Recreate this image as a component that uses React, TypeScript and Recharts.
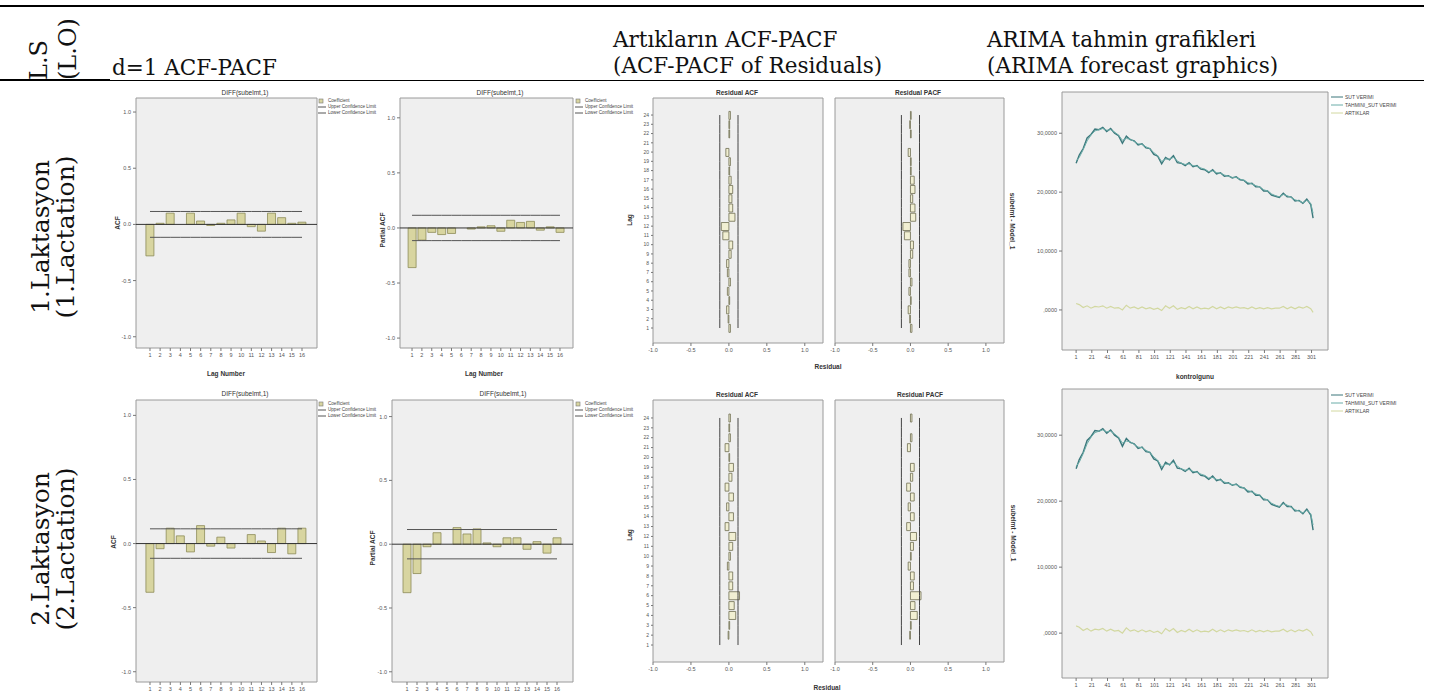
import React from 'react';
import {
  ComposedChart,
  Bar,
  Line,
  XAxis,
  YAxis,
  ReferenceLine,
  ReferenceArea,
  CartesianGrid,
  Legend,
} from 'recharts';

// ---------- data ----------
const acfLags = [1, 2, 3, 4, 5, 6, 7, 8, 9, 10, 11, 12, 13, 14, 15, 16];
const residualLags = [1, 2, 3, 4, 5, 6, 7, 8, 9, 10, 11, 12, 13, 14, 15, 16, 17, 18, 19, 20, 21, 22, 23, 24];
const acfYTicks = [-1, -0.5, 0, 0.5, 1];
const residualXTicks = [-1, -0.5, 0, 0.5, 1];

const acfRow1 = [-0.28, 0.01, 0.1, 0.0, 0.1, 0.03, -0.01, 0.01, 0.04, 0.1, -0.02, -0.06, 0.1, 0.06, 0.01, 0.02];
const pacfRow1 = [-0.36, -0.11, -0.04, -0.06, -0.05, 0.0, -0.01, 0.01, 0.02, -0.03, 0.07, 0.05, 0.06, -0.02, 0.01, -0.04];
const acfRow2 = [-0.38, -0.04, 0.12, 0.06, -0.065, 0.14, -0.02, 0.05, -0.035, 0.0, 0.07, 0.02, -0.07, 0.12, -0.08, 0.12];
const pacfRow2 = [-0.38, -0.23, -0.02, 0.09, 0.0, 0.13, 0.08, 0.12, 0.01, -0.02, 0.05, 0.05, -0.04, 0.02, -0.07, 0.05];
const confRow1 = [0.115, -0.115]; // upper, lower
const confRow2 = [0.115, -0.115];

const resAcfRow1 = [0.02, -0.01, -0.03, 0.01, -0.02, 0.02, -0.02, -0.03, 0.03, 0.05, -0.08, -0.1, 0.08, 0.05, 0.04, 0.05, 0.03, 0.01, 0.02, -0.04, 0.0, 0.01, 0.01, 0.02];
const resPacfRow1 = [0.02, -0.01, -0.03, 0.01, -0.02, 0.02, -0.02, -0.02, 0.03, 0.04, -0.08, -0.1, 0.07, 0.06, 0.03, 0.06, 0.05, 0.01, 0.01, -0.03, 0.0, 0.01, -0.01, 0.01];
const resAcfRow2 = [0.0, -0.01, 0.01, 0.09, 0.07, 0.14, 0.05, 0.05, -0.02, 0.02, 0.05, 0.09, -0.05, 0.06, -0.03, 0.06, -0.05, 0.04, 0.06, 0.01, -0.05, 0.02, 0.01, 0.02];
const resPacfRow2 = [0.0, -0.01, 0.01, 0.09, 0.06, 0.14, 0.04, 0.05, -0.03, 0.01, 0.04, 0.08, -0.05, 0.05, -0.03, 0.05, -0.05, 0.03, 0.05, 0.0, -0.04, 0.02, 0.0, 0.02];
const resConf = [0.12, -0.12];

const forecastDays = [1, 5, 10, 15, 20, 25, 30, 35, 40, 45, 50, 55, 60, 65, 70, 75, 80, 85, 90, 95, 100, 105, 110, 115, 120, 125, 130, 135, 140, 145, 150, 155, 160, 165, 170, 175, 180, 185, 190, 195, 200, 205, 210, 215, 220, 225, 230, 235, 240, 245, 250, 255, 260, 265, 270, 275, 280, 285, 290, 295, 300, 303];
const sutVerimi = [24.9, 26.3, 27.4, 29.2, 29.8, 30.7, 30.6, 31.0, 30.3, 30.8, 30.0, 29.6, 28.3, 29.5, 28.9, 28.7, 28.0, 28.2, 27.5, 27.4, 26.4, 26.1, 24.8, 25.9, 25.5, 26.2, 25.0, 24.9, 24.5, 25.0, 24.3, 24.5, 23.9, 23.8, 23.3, 23.8, 23.1, 23.3, 22.7, 22.8, 22.4, 22.6, 22.1, 22.0, 21.4, 21.5, 20.9, 20.9, 20.2, 20.2, 19.5, 19.3, 19.1, 19.8, 19.2, 19.2, 18.5, 18.6, 18.1, 18.8, 17.9, 15.6];
const tahminiSutVerimi = [25.3, 25.9, 27.2, 28.7, 29.7, 30.4, 30.6, 30.8, 30.5, 30.6, 30.2, 29.7, 28.8, 29.1, 29.0, 28.6, 28.2, 28.1, 27.7, 27.4, 26.7, 26.2, 25.2, 25.6, 25.6, 25.9, 25.3, 24.9, 24.7, 24.8, 24.5, 24.4, 24.1, 23.9, 23.5, 23.6, 23.3, 23.2, 22.9, 22.7, 22.5, 22.5, 22.2, 22.0, 21.6, 21.4, 21.1, 20.9, 20.4, 20.2, 19.7, 19.4, 19.2, 19.6, 19.4, 19.1, 18.7, 18.5, 18.2, 18.6, 18.1, 16.4];
const artiklar = [1.1, 0.9, 0.4, 0.7, 0.3, 0.6, 0.5, 0.7, 0.3, 0.6, 0.3, 0.4, 0.0, 0.8, 0.3, 0.5, 0.2, 0.5, 0.2, 0.4, 0.1, 0.3, -0.1, 0.7, 0.3, 0.7, 0.1, 0.4, 0.2, 0.6, 0.2, 0.5, 0.2, 0.3, 0.2, 0.6, 0.2, 0.5, 0.2, 0.5, 0.3, 0.5, 0.3, 0.4, 0.2, 0.5, 0.2, 0.4, 0.2, 0.4, 0.2, 0.3, 0.3, 0.6, 0.2, 0.5, 0.2, 0.5, 0.3, 0.6, 0.2, -0.4];
const forecastXTicks = [1, 21, 41, 61, 81, 101, 121, 141, 161, 181, 201, 221, 241, 261, 281, 301];
const forecastYTicks = [0, 10, 20, 30];

const acfLegendOrder = ['Coefficient', 'Upper Confidence Limit', 'Lower Confidence Limit'];
const forecastLegendOrder = ['SUT VERIMI', 'TAHMINI_SUT VERIMI', 'ARTIKLAR'];

// ---------- styles ----------
const SANS = "'Liberation Sans', Arial, sans-serif";
const SERIF = "'DejaVu Serif', serif";
const PLOT_BG = '#efefef';
const FRAME = '#9a9a9a';
const tickStyle = { fontSize: 5.5, fill: '#555', fontFamily: SANS };

function legendContent(fontSize: number, rowHeight: number, swatch: number, order: string[]) {
  return (props: any) => {
    const items = [...(props.payload || [])].sort(
      (a: any, b: any) => order.indexOf(a.value) - order.indexOf(b.value),
    );
    return (
      <div style={{ fontFamily: SANS, fontSize, lineHeight: `${rowHeight}px`, color: '#444', whiteSpace: 'nowrap' }}>
        {items.map((it: any, i: number) => (
          <div key={i} style={{ display: 'flex', alignItems: 'center', height: rowHeight }}>
            <svg width={swatch} height={rowHeight} style={{ marginRight: 2, flex: 'none' }}>
              {it.type === 'rect' ? (
                <rect x={1} y={rowHeight / 2 - 2} width={4} height={4} fill={it.color} stroke="#777" strokeWidth={0.6} />
              ) : (
                <line x1={0} x2={swatch} y1={rowHeight / 2} y2={rowHeight / 2} stroke={it.color} strokeWidth={1} />
              )}
            </svg>
            <span>{it.value}</span>
          </div>
        ))}
      </div>
    );
  };
}

type AcfProps = {
  left: number; top: number; width: number; height: number;
  marginTop: number; marginRight: number; yAxisWidth: number; xAxisHeight: number;
  xDomain: [number, number]; yDomain: [number, number];
  values: number[]; conf: number[]; legendLeft: number; legendTop: number;
};

function AcfChart(p: AcfProps) {
  const data = acfLags.map((lag, i) => ({ lag, coef: p.values[i], upper: p.conf[0], lower: p.conf[1] }));
  return (
    <div style={{ position: 'absolute', left: p.left, top: p.top }}>
      <ComposedChart width={p.width} height={p.height} data={data}
        margin={{ top: p.marginTop, right: p.marginRight, bottom: 0, left: 0 }}>
        <CartesianGrid horizontal={false} vertical={false} fill={PLOT_BG} />
        <XAxis type="number" dataKey="lag" domain={p.xDomain} ticks={acfLags} interval={0}
          height={p.xAxisHeight} axisLine={false} tickLine={{ stroke: '#777' }} tickSize={3}
          tick={tickStyle} allowDataOverflow />
        <YAxis type="number" domain={p.yDomain} ticks={acfYTicks} interval={0} width={p.yAxisWidth}
          axisLine={false} tickLine={{ stroke: '#777' }} tickSize={3} tick={tickStyle}
          tickFormatter={(v: number) => v.toFixed(1)} allowDataOverflow />
        <ReferenceArea x1={p.xDomain[0]} x2={p.xDomain[1]} y1={p.yDomain[0]} y2={p.yDomain[1]}
          fill="none" stroke={FRAME} strokeWidth={1} ifOverflow="visible" />
        <Bar dataKey="coef" name="Coefficient" barSize={8} fill="#d8d5a0" stroke="#8d8b58"
          strokeWidth={0.8} isAnimationActive={false} />
        <Line dataKey="upper" name="Upper Confidence Limit" type="linear" stroke="#555" strokeWidth={1}
          dot={false} activeDot={false} isAnimationActive={false} />
        <Line dataKey="lower" name="Lower Confidence Limit" type="linear" stroke="#555" strokeWidth={1}
          dot={false} activeDot={false} isAnimationActive={false} />
        <ReferenceLine y={0} stroke="#333" strokeWidth={1} />
        <Legend layout="vertical" align="center" verticalAlign="middle"
          wrapperStyle={{ left: p.legendLeft, top: p.legendTop }}
          content={legendContent(4.6, 6, 8, acfLegendOrder)} />
      </ComposedChart>
    </div>
  );
}

type ResProps = {
  left: number; top: number; width: number; height: number;
  marginTop: number; marginLeft: number; marginRight: number; yAxisWidth: number; xAxisHeight: number;
  hideY: boolean; xDomain: [number, number]; yDomain: [number, number];
  values: number[]; conf: number[];
};

function ResidualChart(p: ResProps) {
  const data = residualLags.map((lag, i) => ({ lag, coef: p.values[i], upper: p.conf[0], lower: p.conf[1] }));
  return (
    <div style={{ position: 'absolute', left: p.left, top: p.top }}>
      <ComposedChart layout="vertical" width={p.width} height={p.height} data={data}
        margin={{ top: p.marginTop, right: p.marginRight, bottom: 0, left: p.marginLeft }}>
        <CartesianGrid horizontal={false} vertical={false} fill={PLOT_BG} />
        <XAxis type="number" domain={p.xDomain} ticks={residualXTicks} interval={0} height={p.xAxisHeight}
          axisLine={false} tickLine={{ stroke: '#777' }} tickSize={3} tick={tickStyle}
          tickFormatter={(v: number) => v.toFixed(1)} allowDataOverflow />
        <YAxis type="number" dataKey="lag" domain={p.yDomain} ticks={residualLags} interval={0} reversed
          width={p.yAxisWidth} hide={p.hideY} axisLine={false} tickLine={{ stroke: '#777' }} tickSize={2}
          tick={{ ...tickStyle, fontSize: 5 }} allowDataOverflow />
        <ReferenceArea x1={p.xDomain[0]} x2={p.xDomain[1]} y1={p.yDomain[0]} y2={p.yDomain[1]}
          fill="none" stroke={FRAME} strokeWidth={1} ifOverflow="visible" />
        <Bar dataKey="coef" name="Coefficient" barSize={8} fill="#f1efd2" stroke="#6f6d50"
          strokeWidth={0.8} isAnimationActive={false} />
        <Line dataKey="upper" name="Upper Confidence Limit" type="linear" stroke="#444" strokeWidth={1}
          dot={false} activeDot={false} isAnimationActive={false} />
        <Line dataKey="lower" name="Lower Confidence Limit" type="linear" stroke="#444" strokeWidth={1}
          dot={false} activeDot={false} isAnimationActive={false} />
      </ComposedChart>
    </div>
  );
}

type FcProps = {
  left: number; top: number; width: number; height: number;
  marginTop: number; xAxisHeight: number; yDomain: [number, number];
  legendLeft: number; legendTop: number;
};

function ForecastChart(p: FcProps) {
  const data = forecastDays.map((day, i) => ({ day, obs: sutVerimi[i], fit: tahminiSutVerimi[i], res: artiklar[i] }));
  const xDomain: [number, number] = [-17, 322];
  return (
    <div style={{ position: 'absolute', left: p.left, top: p.top }}>
      <ComposedChart width={p.width} height={p.height} data={data}
        margin={{ top: p.marginTop, right: 101, bottom: 0, left: 0 }}>
        <CartesianGrid horizontal={false} vertical={false} fill={PLOT_BG} />
        <XAxis type="number" dataKey="day" domain={xDomain} ticks={forecastXTicks} interval={0}
          height={p.xAxisHeight} axisLine={false} tickLine={{ stroke: '#777' }} tickSize={3}
          tick={tickStyle} allowDataOverflow />
        <YAxis type="number" domain={p.yDomain} ticks={forecastYTicks} interval={0} width={62}
          axisLine={false} tickLine={{ stroke: '#777' }} tickSize={3} tick={tickStyle}
          tickFormatter={(v: number) => (v === 0 ? ',0000' : `${v},0000`)} allowDataOverflow />
        <ReferenceArea x1={xDomain[0]} x2={xDomain[1]} y1={p.yDomain[0]} y2={p.yDomain[1]}
          fill="none" stroke={FRAME} strokeWidth={1} ifOverflow="visible" />
        <Line dataKey="obs" name="SUT VERIMI" type="linear" stroke="#3a777b" strokeWidth={1.4}
          dot={false} activeDot={false} isAnimationActive={false} />
        <Line dataKey="fit" name="TAHMINI_SUT VERIMI" type="linear" stroke="#6aaca8" strokeWidth={1}
          dot={false} activeDot={false} isAnimationActive={false} />
        <Line dataKey="res" name="ARTIKLAR" type="linear" stroke="#d2d8a0" strokeWidth={1.2}
          dot={false} activeDot={false} isAnimationActive={false} />
        <Legend layout="vertical" align="center" verticalAlign="middle"
          wrapperStyle={{ left: p.legendLeft, top: p.legendTop }}
          content={legendContent(5, 8, 12, forecastLegendOrder)} />
      </ComposedChart>
    </div>
  );
}

function RotText({ x, y, angle, size, family, weight, children, anchor = 'middle' }: any) {
  return (
    <text x={x} y={y} transform={`rotate(${angle} ${x} ${y})`} fontSize={size} fontFamily={family}
      fontWeight={weight || 'normal'} textAnchor={anchor} fill="#111">
      {children}
    </text>
  );
}

export default function App() {
  const hdr = { fontSize: 21.5, fontFamily: SERIF, fill: '#111' };
  const axisT = { fontSize: 6.5, fontFamily: SANS, fontWeight: 'bold' as const, fill: '#333', textAnchor: 'middle' as const };
  const titleT = { fontSize: 6.5, fontFamily: SANS, fill: '#333', textAnchor: 'middle' as const };
  return (
    <div style={{ position: 'relative', width: 1429, height: 698, background: '#fff', overflow: 'hidden' }}>
      <style>{'body{margin:0;}'}</style>

      <svg width={1429} height={698} style={{ position: 'absolute', left: 0, top: 0 }}>
        <line x1={0} x2={1424} y1={6} y2={6} stroke="#000" strokeWidth={2} />
        <line x1={0} x2={110} y1={80} y2={80} stroke="#000" strokeWidth={2} />
        <line x1={110} x2={1424} y1={80.5} y2={80.5} stroke="#000" strokeWidth={1} />

        <RotText x={47} y={80} angle={-90} size={24} family={SERIF} anchor="start">L.S</RotText>
        <RotText x={76} y={80} angle={-90} size={24} family={SERIF} anchor="start">(L.O)</RotText>
        <text x={112} y={75} {...hdr}>d=1 ACF-PACF</text>
        <text x={613} y={47} {...hdr}>Artıkların ACF-PACF</text>
        <text x={613} y={73} {...hdr}>(ACF-PACF of Residuals)</text>
        <text x={987} y={47} {...hdr}>ARIMA tahmin grafikleri</text>
        <text x={987} y={73} {...hdr}>(ARIMA forecast graphics)</text>

        <RotText x={49} y={237} angle={-90} size={25} family={SERIF}>1.Laktasyon</RotText>
        <RotText x={74} y={237} angle={-90} size={25} family={SERIF}>(1.Lactation)</RotText>
        <RotText x={49} y={549} angle={-90} size={25} family={SERIF}>2.Laktasyon</RotText>
        <RotText x={74} y={549} angle={-90} size={25} family={SERIF}>(2.Lactation)</RotText>

        {/* chart titles */}
        <text x={245} y={95} {...titleT}>DIFF(subelmt,1)</text>
        <text x={500} y={95} {...titleT}>DIFF(subelmt,1)</text>
        <text x={737} y={95} {...titleT} fontWeight="bold">Residual ACF</text>
        <text x={918} y={95} {...titleT} fontWeight="bold">Residual PACF</text>
        <text x={245} y={396} {...titleT}>DIFF(subelmt,1)</text>
        <text x={503} y={396} {...titleT}>DIFF(subelmt,1)</text>
        <text x={737} y={397} {...titleT} fontWeight="bold">Residual ACF</text>
        <text x={920} y={397} {...titleT} fontWeight="bold">Residual PACF</text>

        {/* axis titles */}
        <text x={226} y={376} {...axisT}>Lag Number</text>
        <text x={484} y={376} {...axisT}>Lag Number</text>
        <text x={828} y={369} {...axisT}>Residual</text>
        <text x={827} y={690} {...axisT}>Residual</text>
        <text x={1195} y={379} {...axisT}>kontrolgunu</text>
        <g {...axisT}>
          <text x={120} y={223} transform="rotate(-90 120 223)">ACF</text>
          <text x={116} y={542} transform="rotate(-90 116 542)">ACF</text>
          <text x={385} y={230} transform="rotate(-90 385 230)">Partial ACF</text>
          <text x={375} y={548} transform="rotate(-90 375 548)">Partial ACF</text>
          <text x={632} y={220} transform="rotate(-90 632 220)">Lag</text>
          <text x={632} y={535} transform="rotate(-90 632 535)">Lag</text>
          <text x={1010} y={221} transform="rotate(90 1010 221)">subelmt - Model_1</text>
          <text x={1011} y={533} transform="rotate(90 1011 533)">subelmt - Model_1</text>
        </g>
      </svg>

      {/* Row 1 */}
      <AcfChart left={100} top={85} width={260} height={300} marginTop={13} marginRight={43}
        yAxisWidth={36} xAxisHeight={37} xDomain={[-0.38, 17.48]} yDomain={[-1.1, 1.125]}
        values={acfRow1} conf={confRow1} legendLeft={218} legendTop={13} />
      <AcfChart left={355} top={85} width={260} height={300} marginTop={13} marginRight={42}
        yAxisWidth={45} xAxisHeight={37} xDomain={[-0.22, 17.32]} yDomain={[-1.09, 1.18]}
        values={pacfRow1} conf={confRow1} legendLeft={220} legendTop={13} />
      <ResidualChart left={610} top={85} width={220} height={300} marginTop={13} marginLeft={0}
        marginRight={7} yAxisWidth={43} xAxisHeight={42} hideY={false} xDomain={[-1, 1.24]}
        yDomain={[-0.62, 25.84]} values={resAcfRow1} conf={resConf} />
      <ResidualChart left={820} top={85} width={190} height={300} marginTop={13} marginLeft={15}
        marginRight={6} yAxisWidth={0} xAxisHeight={42} hideY={true} xDomain={[-1, 1.24]}
        yDomain={[-0.62, 25.84]} values={resPacfRow1} conf={resConf} />
      <ForecastChart left={1000} top={85} width={429} height={300} marginTop={7} xAxisHeight={35}
        yDomain={[-6.8, 37]} legendLeft={331} legendTop={8} />

      {/* Row 2 */}
      <AcfChart left={100} top={388} width={260} height={310} marginTop={12} marginRight={43}
        yAxisWidth={36} xAxisHeight={16} xDomain={[-0.38, 17.48]} yDomain={[-1.08, 1.12]}
        values={acfRow2} conf={confRow2} legendLeft={218} legendTop={13} />
      <AcfChart left={355} top={388} width={260} height={310} marginTop={12} marginRight={42}
        yAxisWidth={37} xAxisHeight={16} xDomain={[-0.5, 17.6]} yDomain={[-1.08, 1.13]}
        values={pacfRow2} conf={confRow2} legendLeft={220} legendTop={13} />
      <ResidualChart left={610} top={388} width={220} height={310} marginTop={12} marginLeft={0}
        marginRight={7} yAxisWidth={43} xAxisHeight={36} hideY={false} xDomain={[-1, 1.24]}
        yDomain={[-0.72, 25.82]} values={resAcfRow2} conf={resConf} />
      <ResidualChart left={820} top={388} width={190} height={310} marginTop={12} marginLeft={15}
        marginRight={6} yAxisWidth={0} xAxisHeight={36} hideY={true} xDomain={[-1, 1.24]}
        yDomain={[-0.72, 25.82]} values={resPacfRow2} conf={resConf} />
      <ForecastChart left={1000} top={385} width={429} height={313} marginTop={4} xAxisHeight={20}
        yDomain={[-6.8, 37]} legendLeft={331} legendTop={6} />
    </div>
  );
}
